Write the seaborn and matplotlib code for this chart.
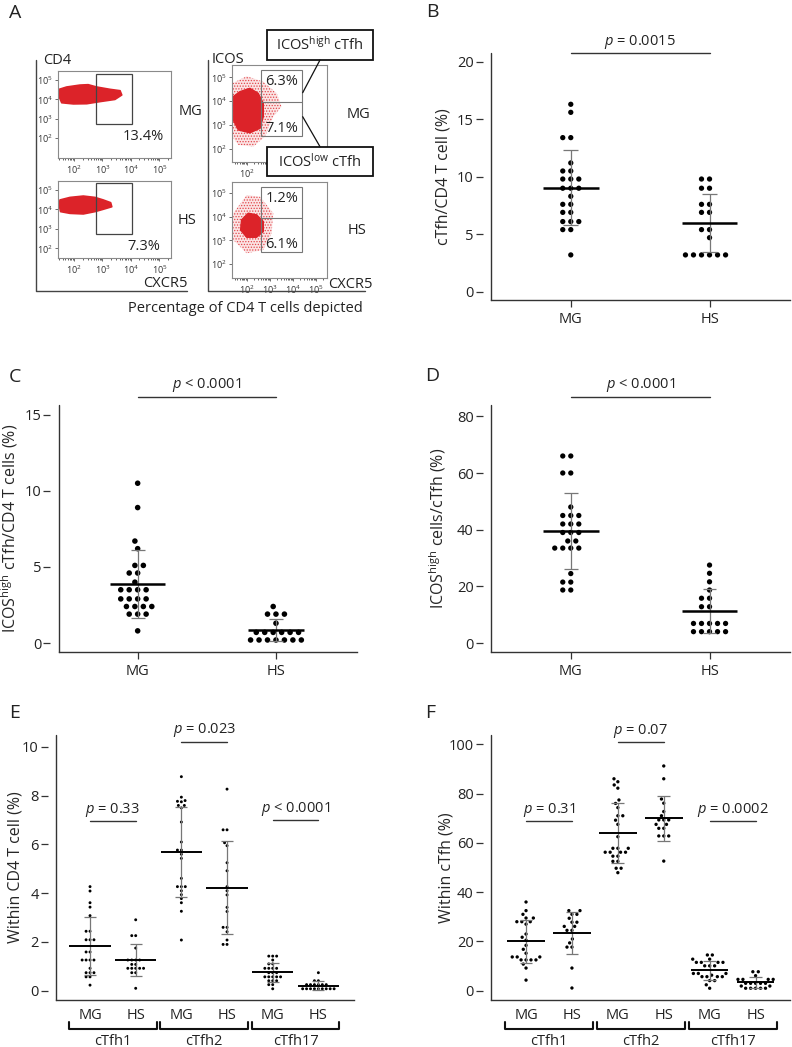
import numpy as np
import pandas as pd
import matplotlib
matplotlib.use('Agg')
import matplotlib.pyplot as plt
import seaborn as sns
from matplotlib.patches import Rectangle
from matplotlib.lines import Line2D

# ---------------- data ----------------
# panel B: cTfh / CD4 T cell (%)
b_mg = [16.3, 15.6, 13.4, 13.4, 11.2, 10.5, 10.5, 9.8, 9.8, 9.8, 9.0, 9.0, 9.0, 8.3,
        7.6, 7.6, 6.9, 6.9, 6.1, 6.1, 6.1, 5.4, 5.4, 3.2]
b_hs = [9.8, 9.8, 9.0, 9.0, 7.6, 7.6, 6.9, 6.9, 5.4, 5.4, 4.7, 3.2, 3.2, 3.2, 3.2, 3.2, 3.2]

# panel C: ICOS-high cTfh / CD4 T cells (%)
c_mg = [10.5, 8.9, 6.7, 6.2, 5.1, 5.1, 4.6, 4.6, 4.0, 3.5, 3.5, 3.5, 3.5, 2.9, 2.9, 2.9,
        2.9, 2.4, 2.4, 2.4, 2.4, 1.9, 1.9, 1.9, 0.8]
c_hs = [2.4, 1.9, 1.9, 1.9, 1.3, 0.7, 0.7, 0.7, 0.7, 0.7, 0.7, 0.2, 0.2, 0.2, 0.2, 0.2, 0.2, 0.2]

# panel D: ICOS-high cells / cTfh (%)
d_mg = [66, 66, 60, 60, 48, 45, 45, 45, 42, 42, 42, 39, 39, 39, 36, 36, 33.5, 33.5, 33.5,
        33.5, 24.5, 21.5, 21.5, 18.7, 18.7]
d_hs = [27.5, 24.6, 21.6, 18.7, 15.8, 15.8, 12.8, 12.8, 6.9, 6.9, 6.9, 6.9, 6.9,
        4.0, 4.0, 4.0, 4.0, 4.0]

# panel E: within CD4 T cell (%)
e_mg1 = [4.27, 4.09, 3.61, 3.43, 3.08, 2.44, 2.44, 2.09, 2.09, 2.09, 1.59, 1.59, 1.26, 1.26,
         1.26, 1.26, 0.92, 0.74, 0.74, 0.74, 0.57, 0.57, 0.23]
e_hs1 = [2.91, 2.26, 2.26, 1.75, 1.26, 1.26, 1.26, 1.26, 1.08, 1.08, 0.92, 0.92, 0.92, 0.92,
         0.92, 0.74, 0.74, 0.1]
e_mg2 = [8.78, 7.94, 7.8, 7.77, 7.75, 7.6, 7.6, 7.5, 6.92, 6.1, 5.77, 5.77, 5.6, 5.43,
         4.61, 4.27, 4.27, 4.27, 4.1, 3.94, 3.78, 3.61, 3.26, 2.08]
e_hs2 = [8.27, 6.6, 6.6, 6.07, 5.95, 5.25, 4.92, 4.27, 4.1, 3.93, 3.42, 3.25, 2.6, 2.6, 2.42,
         2.08, 1.9, 1.9]
e_mg17 = [1.42, 1.42, 1.42, 1.26, 1.1, 1.1, 0.92, 0.92, 0.92, 0.92, 0.74, 0.74, 0.74, 0.57,
          0.57, 0.57, 0.57, 0.57, 0.41, 0.41, 0.41, 0.25, 0.25, 0.08]
e_hs17 = [0.74, 0.41, 0.41, 0.25, 0.25, 0.25, 0.25, 0.25, 0.25, 0.08, 0.08, 0.08, 0.08, 0.08,
          0.08, 0.08, 0.08, 0.08]

# panel F: within cTfh (%)
f_mg1 = [36, 32.5, 31, 29.5, 29.5, 28, 28, 28, 27, 23, 21.7, 20.5, 18.4, 16.8, 15.2, 13.7,
         13.7, 13.7, 12.5, 12.5, 12.5, 12.5, 10.8, 9.2, 4.3]
f_hs1 = [32.5, 32.5, 31, 31, 29.4, 27.8, 27.8, 26.1, 26.1, 24.5, 24.5, 21, 19.4, 17.7, 17.7,
         9.2, 1.1]
f_mg2 = [86, 84.8, 83.5, 82.2, 77.4, 76, 74.3, 71, 71, 69.2, 67.5, 62.5, 57.8, 57.8, 57.8,
         56.2, 56.2, 56.2, 56.2, 54.6, 54.6, 52.5, 52.5, 49.7, 49.7, 47.9]
f_hs2 = [91.2, 86, 77.8, 76.1, 72.7, 71, 69.3, 69.3, 69.3, 67.5, 67.5, 65.9, 65.9, 62.8, 62.8,
         62.8, 52.6]
f_mg17 = [14.5, 14.5, 12.8, 12.8, 11.5, 11.5, 11.5, 11.5, 10.1, 10.1, 10.1, 7.0, 7.0, 7.0,
          6.3, 5.7, 5.7, 5.7, 5.7, 4.1, 4.1, 2.4, 1.0]
f_hs17 = [7.7, 7.7, 6.1, 4.6, 4.6, 4.6, 4.6, 3.0, 3.0, 3.0, 3.0, 3.0, 1.9, 1.9, 1.0, 1.0,
          1.0, 1.0, 1.0]

groups2 = ['MG', 'HS']
subsets = ['cTfh1', 'cTfh2', 'cTfh17']

# p values
p_b = '$\\mathit{p}$ = 0.0015'
p_c = '$\\mathit{p}$ < 0.0001'
p_d = '$\\mathit{p}$ < 0.0001'
p_e = ['$\\mathit{p}$ = 0.33', '$\\mathit{p}$ = 0.023', '$\\mathit{p}$ < 0.0001']
p_f = ['$\\mathit{p}$ = 0.31', '$\\mathit{p}$ = 0.07', '$\\mathit{p}$ = 0.0002']

# panel A: flow gates (log10 units) and gated percentages
gate_cd4_x = [2.76, 4.05]
gate_cd4_mg_y = [2.74, 5.31]
gate_cd4_hs_y = [2.74, 5.34]
quad_x = [2.62, 4.41]
quad_mg_y = [2.53, 3.95, 5.31]
quad_hs_y = [2.50, 3.93, 5.25]
pct_cd4 = ['13.4%', '7.3%']
pct_icos_high = ['6.3%', '1.2%']
pct_icos_low = ['7.1%', '6.1%']

# event cloud outlines (log10 CXCR5, log10 marker)
cd4_mg_x = [1.48, 1.74, 2.21, 2.50, 2.80, 3.27, 3.62, 3.68, 3.44, 2.92, 2.45, 1.98, 1.57, 1.48]
cd4_mg_y = [4.52, 4.64, 4.74, 4.76, 4.64, 4.52, 4.45, 4.23, 4.00, 3.89, 3.78, 3.77, 3.83, 4.14]
cd4_hs_x = [1.51, 1.86, 2.33, 2.74, 3.03, 3.29, 3.33, 3.03, 2.74, 2.33, 1.86, 1.53, 1.48]
cd4_hs_y = [4.49, 4.62, 4.69, 4.62, 4.49, 4.35, 4.14, 4.01, 3.89, 3.77, 3.80, 3.89, 4.23]
icos_mg_core_x = [1.42, 1.71, 2.14, 2.50, 2.72, 2.72, 2.58, 2.14, 1.64, 1.42]
icos_mg_core_y = [4.19, 4.40, 4.54, 4.33, 3.91, 3.35, 2.86, 2.67, 2.79, 3.21]
icos_mg_halo_x = [1.38, 2.00, 2.72, 3.30, 3.51, 3.15, 2.79, 2.29, 1.64, 1.38]
icos_mg_halo_y = [4.75, 5.05, 4.82, 4.33, 3.77, 3.35, 2.51, 2.09, 2.16, 2.51]
icos_hs_core_x = [1.78, 2.07, 2.43, 2.72, 2.72, 2.43, 2.00, 1.74]
icos_hs_core_y = [3.86, 4.14, 4.07, 3.79, 3.37, 3.13, 3.13, 3.44]
icos_hs_halo_x = [1.42, 2.00, 2.58, 3.15, 3.08, 2.72, 2.00, 1.42]
icos_hs_halo_y = [4.14, 4.90, 4.83, 4.14, 3.30, 2.60, 2.46, 3.02]

# ---------------- style ----------------
sns.set_style('ticks')
plt.rcParams['font.family'] = ['Open Sans', 'DejaVu Sans']
plt.rcParams['mathtext.fontset'] = 'custom'
plt.rcParams['mathtext.rm'] = 'Open Sans'
plt.rcParams['mathtext.it'] = 'Open Sans:italic'
plt.rcParams['mathtext.bf'] = 'Open Sans:bold'
plt.rcParams['text.color'] = '#222222'
plt.rcParams['hatch.linewidth'] = 0.6

INK = '#333333'
RED = '#dc2329'
TICK_FS = 10.5
LAB_FS = 11.5
P_FS = 10.5
W, H = 792, 1047
fig = plt.figure(figsize=(W / 100, H / 100), dpi=100)


def rect(x0, y0, x1, y1):
    return [x0 / W, 1 - y1 / H, (x1 - x0) / W, (y1 - y0) / H]


def ftext(x, y, s, **kw):
    kw.setdefault('ha', 'center')
    kw.setdefault('va', 'center')
    fig.text(x / W, 1 - y / H, s, **kw)


def fline(xs, ys, **kw):
    fig.add_artist(Line2D([x / W for x in xs], [1 - y / H for y in ys], **kw))


def flow_axes(box, xl, yl, xlabels=True):
    ax = fig.add_axes(rect(*box))
    ax.set_facecolor('white')
    ax.set_xlim(xl)
    ax.set_ylim(yl)
    for s in ax.spines.values():
        s.set_color('#8a8a8a')
        s.set_linewidth(0.8)
    dec = [2, 3, 4, 5]
    labs = ['$\\mathregular{10^{%d}}$' % d for d in dec]
    ax.set_xticks(dec)
    ax.set_xticklabels(labs if xlabels else [labs[0], '', '', ''])
    ax.set_yticks(dec)
    ax.set_yticklabels(labs)
    minor = [n + np.log10(k) for n in range(1, 6) for k in range(2, 10)]
    ax.set_xticks([m for m in minor if xl[0] < m < xl[1]], minor=True)
    ax.tick_params(labelsize=6.5, length=2.5, width=0.6, pad=1.5, color='#555555',
                   labelcolor='#333333')
    ax.tick_params(which='minor', length=1.5, width=0.5)
    return ax


def halo(ax, xs, ys):
    ax.fill(xs, ys, facecolor='#fbe4e4', edgecolor='#e2474d', hatch='......', lw=0)


def dot_panel(box, series, xlim, ylim, yticks, ylabel, ylab_x, dsize, dedge,
              mean_half, cap_half, mean_lw, xtick_len):
    ax = fig.add_axes(rect(*box))
    n = len(series)
    df = pd.DataFrame({
        'pos': np.repeat([str(i) for i in range(n)], [len(s) for s in series]),
        'value': np.concatenate(series),
    })
    sns.swarmplot(data=df, x='pos', y='value', order=[str(i) for i in range(n)],
                  color='black', size=dsize, linewidth=dedge, edgecolor='none',
                  warn_thresh=1, ax=ax, zorder=3)
    for i, vals in enumerate(series):
        m = np.mean(vals)
        s = np.std(vals, ddof=1)
        ax.vlines(i, m - s, m + s, color='#777777', lw=0.9, zorder=4)
        ax.hlines([m - s, m + s], i - cap_half, i + cap_half, color='#777777', lw=0.9, zorder=4)
        ax.hlines(m, i - mean_half, i + mean_half, color='black', lw=mean_lw, zorder=5)
    ax.set_xlim(xlim)
    ax.set_ylim(ylim)
    ax.set_yticks(yticks)
    ax.set_xticks(range(n))
    ax.set_xlabel('')
    ax.set_ylabel(ylabel, fontsize=LAB_FS, va='center')
    ax.yaxis.set_label_coords(ylab_x, 0.5)
    sns.despine(ax=ax)
    ax.spines['left'].set_position(('outward', 6))
    ax.spines['left'].set_visible(False)
    ax.plot([0, 0], [0, 1], transform=ax.transAxes, color=INK, lw=1.0, clip_on=False)
    ax.spines['bottom'].set_color(INK)
    ax.spines['bottom'].set_linewidth(1.0)
    ax.tick_params(axis='y', length=5, width=0.9, color=INK, pad=1.5, labelsize=TICK_FS,
                   labelcolor='#222222')
    ax.tick_params(axis='x', length=xtick_len, width=0.9, color=INK,
                   pad=6.0 - xtick_len * 0.5, labelsize=TICK_FS, labelcolor='#222222')
    return ax


def sig(ax, x0, x1, y, ty, label):
    ax.plot([x0, x1], [y, y], color=INK, lw=1.0, clip_on=False)
    ax.text((x0 + x1) / 2, ty, label, ha='center', va='center_baseline', fontsize=P_FS,
            clip_on=False)


# ---------------- panel A ----------------
ax1 = flow_axes((58.3, 70.7, 171, 158.3), (1.45, 5.41), (0.97, 5.48))
ax2 = flow_axes((58.3, 180.7, 171, 257.7), (1.45, 5.41), (1.52, 5.48))
ax3 = flow_axes((232.3, 65, 326.7, 162.3), (1.38, 5.46), (1.43, 5.52), xlabels=False)
ax4 = flow_axes((232.3, 181.7, 326.7, 278.3), (1.38, 5.46), (1.41, 5.46))

ax1.fill(cd4_mg_x, cd4_mg_y, color=RED, lw=1.2, joinstyle='round')
ax2.fill(cd4_hs_x, cd4_hs_y, color=RED, lw=1.2, joinstyle='round')
halo(ax3, icos_mg_halo_x, icos_mg_halo_y)
ax3.fill(icos_mg_core_x, icos_mg_core_y, color=RED, lw=1.0, joinstyle='round')
halo(ax4, icos_hs_halo_x, icos_hs_halo_y)
ax4.fill(icos_hs_core_x, icos_hs_core_y, color=RED, lw=1.0, joinstyle='round')

for ax, gy, pct in [(ax1, gate_cd4_mg_y, pct_cd4[0]), (ax2, gate_cd4_hs_y, pct_cd4[1])]:
    ax.add_patch(Rectangle((gate_cd4_x[0], gy[0]), gate_cd4_x[1] - gate_cd4_x[0],
                           gy[1] - gy[0], fill=False, ec='#444444', lw=0.9, zorder=5))
    ax.text(4.45, 2.1, pct, ha='center', va='center', fontsize=10.5, zorder=6)

for ax, qy, hi, lo in [(ax3, quad_mg_y, pct_icos_high[0], pct_icos_low[0]),
                       (ax4, quad_hs_y, pct_icos_high[1], pct_icos_low[1])]:
    ax.add_patch(Rectangle((quad_x[0], qy[0]), quad_x[1] - quad_x[0], qy[2] - qy[0],
                           fill=False, ec='#777777', lw=0.8, zorder=5))
    ax.plot(quad_x, [qy[1], qy[1]], color='#777777', lw=0.8, zorder=5)
    ax.text(3.52, qy[2] - 0.5, hi, ha='center', va='center', fontsize=10.5, zorder=6)
    ax.text(3.52, qy[0] + 0.32, lo, ha='center', va='center', fontsize=10.5, zorder=6)

# frames and labels around the flow plots
fline([35.7, 35.7, 186.7], [60, 291, 291], color='#444444', lw=1.0)
fline([208.3, 208.3, 365], [60, 291, 291], color='#444444', lw=1.0)
ftext(43, 60, 'CD4', ha='left', fontsize=10.5)
ftext(212, 59.5, 'ICOS', ha='left', fontsize=10.5)
ftext(190, 111.7, 'MG', fontsize=10.5)
ftext(187, 220, 'HS', fontsize=10.5)
ftext(358.3, 115, 'MG', fontsize=10.5)
ftext(356.7, 230, 'HS', fontsize=10.5)
ftext(165, 283.3, 'CXCR5', fontsize=10.5)
ftext(350, 285, 'CXCR5', fontsize=10.5)
ftext(245, 308.3, 'Percentage of CD4 T cells depicted', fontsize=10.5)

# callouts
for y0, y1, txt in [(30, 60, 'ICOS$^{\\mathregular{high}}$ cTfh'),
                    (146.7, 176, 'ICOS$^{\\mathregular{low}}$ cTfh')]:
    fig.add_artist(Rectangle((266.7 / W, 1 - y1 / H), 106.6 / W, (y1 - y0) / H,
                             transform=fig.transFigure, fc='white', ec='#111111',
                             lw=1.3, zorder=10))
    ftext(320, (y0 + y1) / 2, txt, fontsize=10.5, zorder=11)
fline([320, 302.7], [60, 92.7], color='#111111', lw=0.9, zorder=10)
fline([302.7, 320], [116.7, 146.7], color='#111111', lw=0.9, zorder=10)

# ---------------- panels B, C, D ----------------
axB = dot_panel((491, 53, 790, 300), [b_mg, b_hs], (-0.575, 1.58), (-0.72, 20.76),
                [0, 5, 10, 15, 20], 'cTfh/CD4 T cell (%)', -0.16, 3.8, 1.7, 0.2, 0.055, 1.8, 5)
axB.set_xticklabels(groups2)
sig(axB, 0, 1, 20.8, 22.0, p_b)

axC = dot_panel((58.7, 405, 357, 651.7), [c_mg, c_hs], (-0.571, 1.586), (-0.57, 15.64),
                [0, 5, 10, 15], 'ICOS$^{\\mathregular{high}}$ cTfh/CD4 T cells (%)', -0.164,
                4.0, 1.8, 0.2, 0.05, 1.8, 5)
axC.set_xticklabels(groups2)
sig(axC, 0, 1, 16.16, 17.17, p_c)

axD = dot_panel((491, 405, 790, 651.7), [d_mg, d_hs], (-0.575, 1.58), (-3.07, 84.0),
                [0, 20, 40, 60, 80], 'ICOS$^{\\mathregular{high}}$ cells/cTfh (%)', -0.18,
                3.8, 1.7, 0.2, 0.05, 1.8, 5)
axD.set_xticklabels(groups2)
sig(axD, 0, 1, 86.9, 92.2, p_d)

# ---------------- panels E, F ----------------
axE = dot_panel((56, 735, 354, 1000), [e_mg1, e_hs1, e_mg2, e_hs2, e_mg17, e_hs17],
                (-0.745, 5.78), (-0.38, 10.49), [0, 2, 4, 6, 8, 10],
                'Within CD4 T cell (%)', -0.135, 2.1, 0.6, 0.45, 0.13, 1.4, 0)
axF = dot_panel((491, 735, 790, 1000), [f_mg1, f_hs1, f_mg2, f_hs2, f_mg17, f_hs17],
                (-0.763, 5.75), (-3.77, 103.77), [0, 20, 40, 60, 80, 100],
                'Within cTfh (%)', -0.148, 2.4, 1.0, 0.41, 0.14, 1.4, 0)
e_sig = [(6.96, 7.55), (10.19, 10.8), (6.99, 7.58)]
f_sig = [(68.9, 74.7), (100.8, 106.7), (68.9, 74.7)]
for ax, sigs, labs in [(axE, e_sig, p_e), (axF, f_sig, p_f)]:
    ax.set_xticklabels(groups2 * 3)
    tr = ax.get_xaxis_transform()
    for i, name in enumerate(subsets):
        x0, x1 = 2 * i - 0.46, 2 * i + 1.46
        ax.plot([x0, x0, x1, x1], [-0.082, -0.111, -0.111, -0.082], transform=tr,
                color='#111111', lw=1.5, clip_on=False)
        ax.text(2 * i + 0.5, -0.127, name, transform=tr, ha='center', va='top',
                fontsize=TICK_FS)
        sig(ax, 2 * i, 2 * i + 1, sigs[i][0], sigs[i][1], labs[i])

# panel letters
for x, y, s in [(15, 13, 'A'), (432, 11.7, 'B'), (15, 377, 'C'), (432, 376, 'D'),
                (15, 713, 'E'), (430, 713, 'F')]:
    ftext(x, y, s, fontsize=14)

fig.savefig('out.png', dpi=100, facecolor='white')
